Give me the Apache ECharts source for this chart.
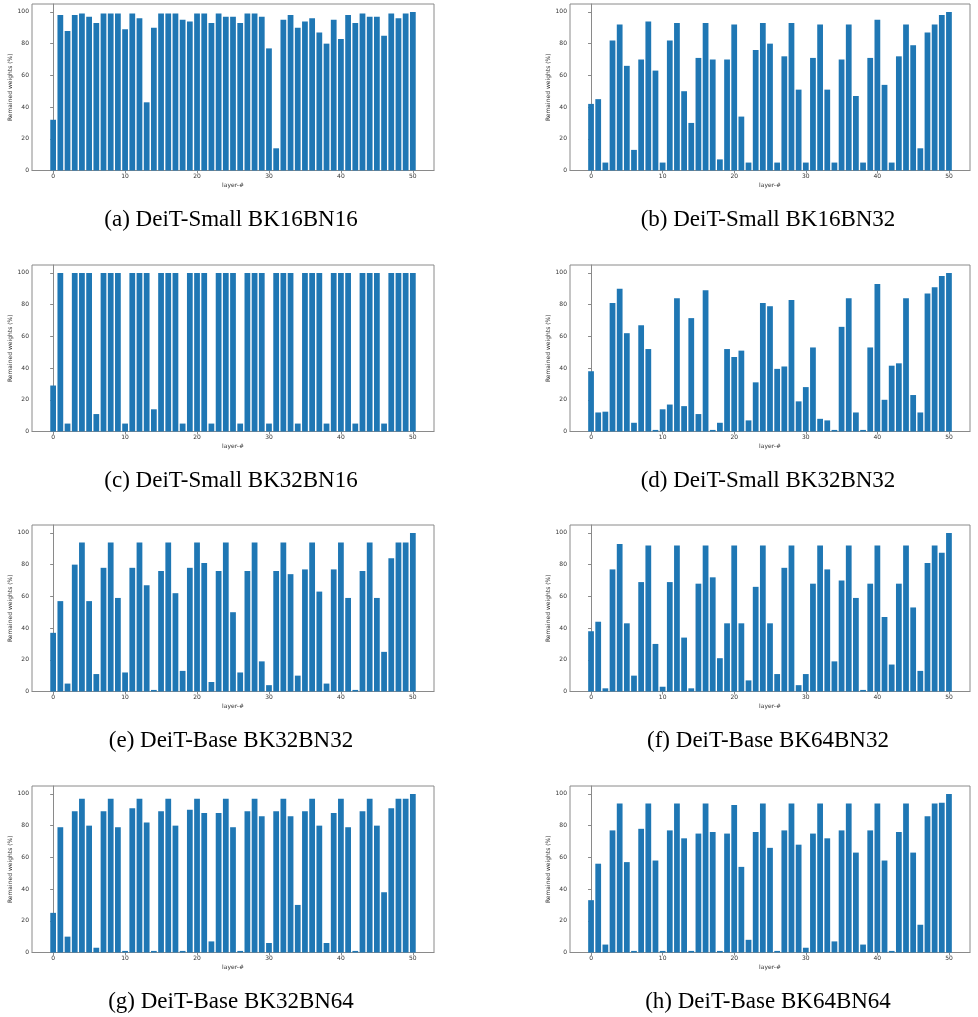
<!DOCTYPE html>
<html>
<head>
<meta charset="utf-8">
<script src="https://cdn.jsdelivr.net/npm/echarts@6/dist/echarts.min.js"></script>
<style>
html,body{margin:0;padding:0;background:#fff;}
#chart{width:978px;height:1017px;}
</style>
</head>
<body>
<div id="chart"></div>
<script>
const layers = [0,1,2,3,4,5,6,7,8,9,10,11,12,13,14,15,16,17,18,19,20,21,22,23,24,25,26,27,28,29,30,31,32,33,34,35,36,37,38,39,40,41,42,43,44,45,46,47,48,49,50];
const xTicks = [0,10,20,30,40,50];
const yTicks = [0,20,40,60,80,100];
const captions = [
  "(a) DeiT-Small BK16BN16", "(b) DeiT-Small BK16BN32",
  "(c) DeiT-Small BK32BN16", "(d) DeiT-Small BK32BN32",
  "(e) DeiT-Base BK32BN32",  "(f) DeiT-Base BK64BN32",
  "(g) DeiT-Base BK32BN64",  "(h) DeiT-Base BK64BN64"
];
const smallBK16BN16 = [32,98,88,98,99,97,93,99,99,99,89,99,96,43,90,99,99,99,95,94,99,99,93,99,97,97,93,99,99,97,77,14,95,98,90,94,96,87,80,95,83,98,93,99,97,97,85,99,96,99,100];
const smallBK16BN32 = [42,45,5,82,92,66,13,70,94,63,5,82,93,50,30,71,93,70,7,70,92,34,5,76,93,80,5,72,93,51,5,71,92,51,5,70,92,47,5,71,95,54,5,72,92,79,14,87,92,98,100];
const smallBK32BN16 = [29,100,5,100,100,100,11,100,100,100,5,100,100,100,14,100,100,100,5,100,100,100,5,100,100,100,5,100,100,100,5,100,100,100,5,100,100,100,5,100,100,100,5,100,100,100,5,100,100,100,100];
const smallBK32BN32 = [38,12,12.5,81,90,62,5.5,67,52,1,14,17,84,16,71.5,11,89,1,5.5,52,47,51,7,31,81,79,39.5,41,83,19,28,53,8,7,1,66,84,12,1,53,93,20,41.5,43,84,23,12,87,91,98,100];
const baseBK32BN32 = [37,57,5,80,94,57,11,78,94,59,12,78,94,67,1,76,94,62,13,78,94,81,6,76,94,50,12,76,94,19,4,76,94,74,10,77,94,63,5,77,94,59,1,76,94,59,25,84,94,94,100];
const baseBK64BN32 = [38,44,2,77,93,43,10,69,92,30,3,69,92,34,2,68,92,72,21,43,92,43,7,66,92,43,11,78,92,4,11,68,92,77,19,70,92,59,1,68,92,47,17,68,92,53,13,81,92,87.5,100];
const baseBK32BN64 = [25,79,10,89,97,80,3,89,97,79,1,91,97,82,1,89,97,80,1,90,97,88,7,88,97,79,1,89,97,86,6,89,97,86,30,89,97,80,6,88,97,79,1,89,97,80,38,91,97,97,100];
const baseBK64BN64 = [33,56,5,77,94,57,1,78,94,58,1,77,94,72,1,75,94,76,1,75,93,54,8,76,94,66,1,77,94,68,3,75,94,72,7,77,94,63,5,77,94,58,1,76,94,63,17.5,86,94,94.5,100];

const panels = [smallBK16BN16, smallBK16BN32, smallBK32BN16, smallBK32BN32,
                baseBK32BN32, baseBK64BN32, baseBK32BN64, baseBK64BN64];

const colLeft = [32, 570];
const colWidth = [402, 400];
const rowTop = [4, 265, 525, 786];
const plotH = 166.5;

const grids = [], xAxes = [], yAxes = [], series = [], graphics = [];
const tickFont = {fontFamily: 'DejaVu Sans', fontSize: 6, color: '#333'};
const spine = '#8a8a8a';

panels.forEach((vals, i) => {
  const col = i % 2, row = Math.floor(i / 2);
  grids.push({left: colLeft[col], top: rowTop[row], width: colWidth[col], height: plotH,
    show: true, borderColor: spine, borderWidth: 1, backgroundColor: 'transparent'});
  xAxes.push({
    type: 'value', gridIndex: i, min: -2.94, max: 52.94,
    name: 'layer-#', nameLocation: 'middle', nameGap: 12,
    nameTextStyle: {fontFamily: 'DejaVu Sans', fontSize: 6, color: '#333'},
    axisLine: {show: true, lineStyle: {color: spine}},
    axisTick: {show: true, length: 3, lineStyle: {color: spine}, customValues: xTicks},
    axisLabel: Object.assign({margin: 3, customValues: xTicks}, tickFont),
    splitLine: {show: false}
  });
  yAxes.push({
    type: 'value', gridIndex: i, min: 0, max: 105,
    name: 'Remained weights (%)', nameLocation: 'middle', nameGap: 16,
    nameTextStyle: {fontFamily: 'DejaVu Sans', fontSize: 6, color: '#333'},
    axisLine: {show: true, lineStyle: {color: spine}},
    axisTick: {show: true, length: 3, lineStyle: {color: spine}, customValues: yTicks},
    axisLabel: Object.assign({margin: 3, customValues: yTicks}, tickFont),
    splitLine: {show: false}
  });
  series.push({
    type: 'bar', xAxisIndex: i, yAxisIndex: i,
    data: layers.map((l, k) => [l, vals[k]]),
    barWidth: 5.76,
    itemStyle: {color: '#1f77b4', borderWidth: 0},
    animation: false, silent: true
  });
  graphics.push({
    type: 'text',
    x: colLeft[col] + colWidth[col] / 2 - 2,
    y: rowTop[row] + 216,
    style: {text: captions[i], font: '23px "Liberation Serif"', fill: '#000',
            textAlign: 'center', textVerticalAlign: 'middle'}
  });
});

const chart = echarts.init(document.getElementById('chart'), null, {renderer: 'canvas'});
chart.setOption({
  backgroundColor: '#fff',
  animation: false,
  grid: grids, xAxis: xAxes, yAxis: yAxes, series: series,
  graphic: graphics
});
</script>
</body>
</html>
